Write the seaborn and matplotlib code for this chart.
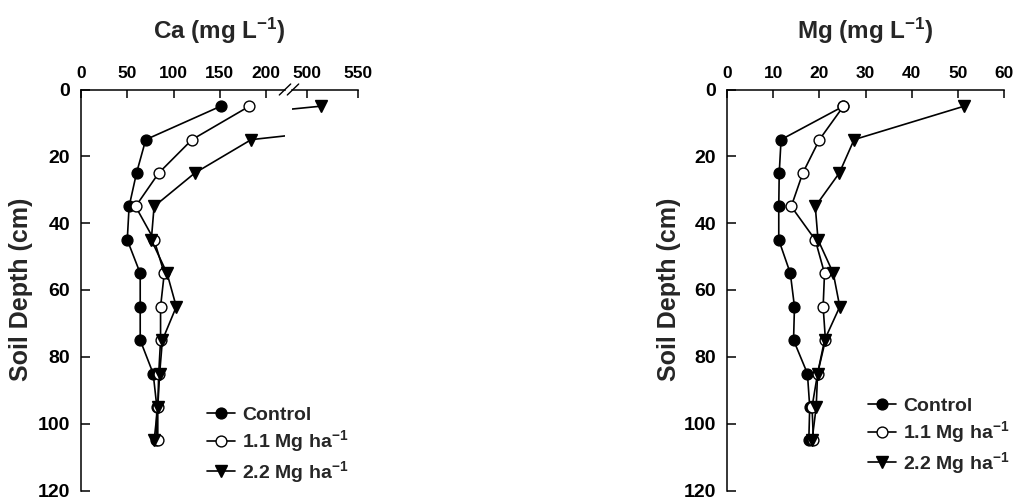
import matplotlib
matplotlib.use("Agg")
import matplotlib.pyplot as plt
import seaborn as sns
import pandas as pd
from matplotlib.lines import Line2D

# ---------------- data ----------------
depth = [5, 15, 25, 35, 45, 55, 65, 75, 85, 95, 105]
ca_control = [151, 70, 60, 52, 50, 64, 64, 64, 78, 82, 81]
ca_11 = [182, 120, 84, 59, 79, 90, 86, 86, 84, 83, 83]
ca_22 = [513, 184, 123, 79, 76, 93, 103, 88, 85, 83, 79]
mg_control = [25.2, 11.7, 11.3, 11.2, 11.2, 13.7, 14.6, 14.4, 17.4, 17.9, 17.7]
mg_11 = [25.2, 20.0, 16.4, 13.9, 19.1, 21.1, 20.8, 21.3, 19.6, 18.4, 18.7]
mg_22 = [51.3, 27.5, 24.3, 19.1, 19.7, 23.0, 24.4, 21.1, 19.6, 19.3, 18.4]
labels = ["Control", "1.1 Mg ha$^{-1}$", "2.2 Mg ha$^{-1}$"]
ca_ticks_low = [0, 50, 100, 150, 200]
ca_ticks_high = [500, 550]
mg_ticks = [0, 10, 20, 30, 40, 50, 60]
depth_ticks = [0, 20, 40, 60, 80, 100, 120]

# ---------------- style ----------------
sns.set_theme(style="white")
plt.rcParams["font.family"] = ["Liberation Sans", "DejaVu Sans"]
plt.rcParams["font.weight"] = "bold"
plt.rcParams["mathtext.fontset"] = "custom"
plt.rcParams["mathtext.rm"] = "Liberation Sans:bold"
plt.rcParams["mathtext.bf"] = "Liberation Sans:bold"
plt.rcParams["mathtext.default"] = "bf"

W, H = 1014, 499
fig = plt.figure(figsize=(W / 100, H / 100), dpi=100)

def fx(px):
    return px / W

def fy(py):
    return 1 - py / H

top_px, bot_px = 89.5, 490.5
bottom = fy(bot_px)
height = (bot_px - top_px) / H

ax_ca1 = fig.add_axes([fx(81), bottom, fx(285 - 81), height])
ax_ca2 = fig.add_axes([fx(292), bottom, fx(358.3 - 292), height])
ax_mg = fig.add_axes([fx(727), bottom, fx(1004.3 - 727), height])

styles = [
    dict(marker="o", markerfacecolor="black", markersize=7.8),
    dict(marker="o", markerfacecolor="white", markersize=7.8),
    dict(marker="v", markerfacecolor="black", markersize=8.8),
]

def draw(ax, series, with_labels):
    for vals, lab, st in zip(series, labels, styles):
        df = pd.DataFrame({"value": vals, "depth": depth})
        kw = dict(label=lab) if with_labels else {}
        sns.lineplot(data=df, x="value", y="depth", ax=ax, orient="y",
                     sort=False, estimator=None, legend=False,
                     color="black", linewidth=1.2, markeredgecolor="black",
                     markeredgewidth=1.0, **kw, **st)

draw(ax_ca1, [ca_control, ca_11, ca_22], True)
draw(ax_ca2, [ca_control, ca_11, ca_22], False)
draw(ax_mg, [mg_control, mg_11, mg_22], True)

ax_ca1.set_xlim(0, 220.5)
ax_ca2.set_xlim(485, 550)
ax_mg.set_xlim(0, 60)
ax_ca1.set_xticks(ca_ticks_low)
ax_ca2.set_xticks(ca_ticks_high)
ax_mg.set_xticks(mg_ticks)

for ax in (ax_ca1, ax_ca2, ax_mg):
    ax.set_ylim(120, 0)
    ax.set_xlabel("")
    ax.set_ylabel("")
    ax.patch.set_visible(False)
    for s in ("right", "bottom"):
        ax.spines[s].set_visible(False)
    for s in ("top", "left"):
        ax.spines[s].set_color("black")
        ax.spines[s].set_linewidth(1.1)
    ax.xaxis.set_ticks_position("top")
    ax.xaxis.set_label_position("top")
    ax.tick_params(axis="x", direction="in", length=5.5, width=1.1,
                   labelsize=12.5, pad=6, colors="black", top=True, bottom=False)
    ax.tick_params(axis="y", direction="in", length=6.5, width=1.1,
                   labelsize=14, pad=8, colors="black", left=True)
    ax.set_yticks(depth_ticks)
    for t in ax.get_xticklabels() + ax.get_yticklabels():
        t.set_fontweight("bold")

ax_ca2.spines["left"].set_visible(False)
ax_ca2.tick_params(axis="y", left=False, labelleft=False)

# axis break marks
for x0 in (279.3, 287.3):
    fig.add_artist(Line2D([fx(x0), fx(x0 + 11.4)], [fy(95), fy(84)],
                          color="black", linewidth=1.0, transform=fig.transFigure))

# titles and y labels
fig.text(fx(219.5), fy(31), "Ca (mg L$^{-1}$)", ha="center", va="center",
         fontsize=17.5, fontweight="bold")
fig.text(fx(865.7), fy(31), "Mg (mg L$^{-1}$)", ha="center", va="center",
         fontsize=17.5, fontweight="bold")
fig.text(fx(21), fy(289), "Soil Depth (cm)", rotation=90, ha="center",
         va="center", fontsize=18, fontweight="bold")
fig.text(fx(669), fy(289), "Soil Depth (cm)", rotation=90, ha="center",
         va="center", fontsize=18, fontweight="bold")

# legends
leg_kw = dict(frameon=False, handlelength=1.45, handletextpad=0.36,
              labelspacing=0.25, borderpad=0, borderaxespad=0, loc="upper left",
              prop={"weight": "bold", "size": 14})
h1, l1 = ax_ca1.get_legend_handles_labels()
fig.legend(h1, l1, bbox_to_anchor=(fx(207), fy(406)), **leg_kw)
h2, l2 = ax_mg.get_legend_handles_labels()
fig.legend(h2, l2, bbox_to_anchor=(fx(867.7), fy(397)), **leg_kw)

fig.savefig("out.png", dpi=100)
